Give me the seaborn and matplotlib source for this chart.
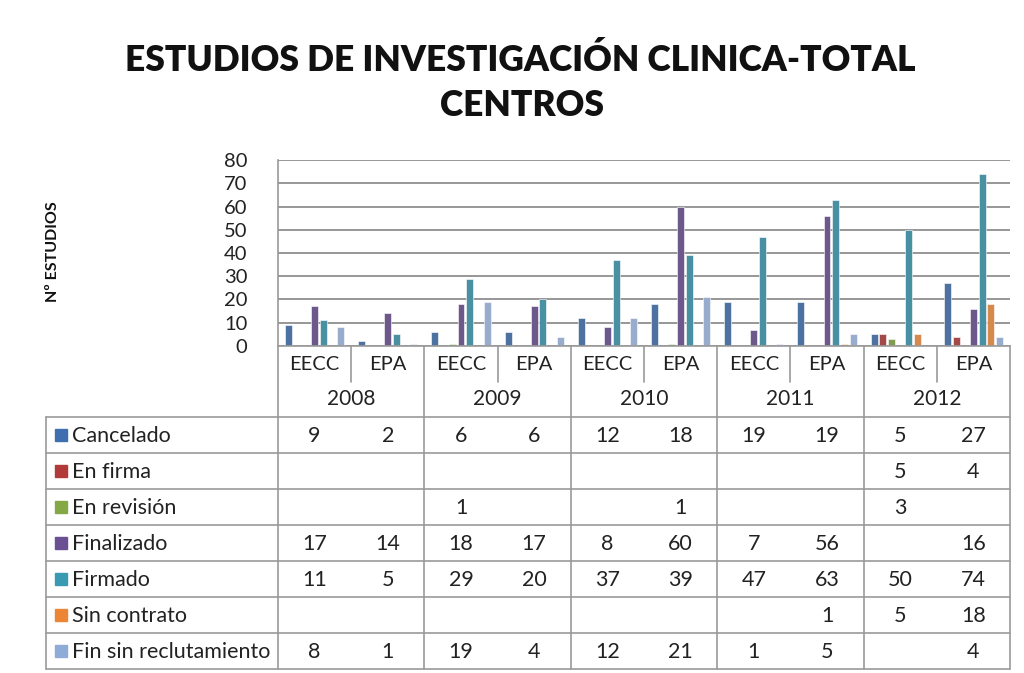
"""
Estudios de investigacion clinica - total centros.
Barras agrupadas por año / tipo (EECC, EPA) con tabla de datos debajo.
"""
import numpy as np
import pandas as pd
import matplotlib
matplotlib.use("Agg")
import matplotlib.pyplot as plt
import seaborn as sns

nan = np.nan
YEARS = ["2008", "2009", "2010", "2011", "2012"]
TIPOS = ["EECC", "EPA"]
ESTADOS = ["Cancelado", "En firma", "En revisión", "Finalizado", "Firmado",
           "Sin contrato", "Fin sin reclutamiento"]
COLORES = ["#3F6FAE", "#B23B3A", "#84A845", "#6A4F93", "#3A9AB1", "#EC8635", "#8FABD7"]

CANCELADO = [9, 2, 6, 6, 12, 18, 19, 19, 5, 27]
EN_FIRMA = [nan, nan, nan, nan, nan, nan, nan, nan, 5, 4]
EN_REVISION = [nan, nan, 1, nan, nan, 1, nan, nan, 3, nan]
FINALIZADO = [17, 14, 18, 17, 8, 60, 7, 56, nan, 16]
FIRMADO = [11, 5, 29, 20, 37, 39, 47, 63, 50, 74]
SIN_CONTRATO = [nan, nan, nan, nan, nan, nan, nan, 1, 5, 18]
FIN_SIN_RECL = [8, 1, 19, 4, 12, 21, 1, 5, nan, 4]
SERIES = [CANCELADO, EN_FIRMA, EN_REVISION, FINALIZADO, FIRMADO, SIN_CONTRATO, FIN_SIN_RECL]

W, H = 1024, 673
FONT = "Lato"
LINE = "#9a9a9a"
TXT = "#222222"


def main():
    sns.set_theme(style="white")
    plt.rcParams["font.family"] = [FONT, "DejaVu Sans"]

    cols = [f"{y} {t}" for y in YEARS for t in TIPOS]
    filas = []
    for est, vals in zip(ESTADOS, SERIES):
        for c, v in zip(cols, vals):
            if not np.isnan(v):
                filas.append({"col": c, "estado": est, "valor": v})
    df = pd.DataFrame(filas)

    fig = plt.figure(figsize=(W / 100, H / 100), dpi=100)
    x0, x1, ytop, ybot = 278, 1010, 160, 346
    ax = fig.add_axes([x0 / W, 1 - ybot / H, (x1 - x0) / W, (ybot - ytop) / H])
    sns.barplot(data=df, x="col", y="valor", hue="estado", order=cols,
                hue_order=ESTADOS, palette=COLORES, width=0.83, gap=0.2,
                dodge=True, legend=False, ax=ax, edgecolor="white", linewidth=0.4)
    ax.set_xlim(-0.5, len(cols) - 0.5)
    ax.set_ylim(0, 80)
    ax.set_yticks(range(0, 81, 10))
    ax.set_xticks([])
    ax.set_xlabel(""); ax.set_ylabel("")
    ax.grid(axis="y", color="#858585", lw=1.2)
    ax.set_axisbelow(True)
    for s in ["top", "right"]:
        ax.spines[s].set_visible(False)
    for s in ["left", "bottom"]:
        ax.spines[s].set_color(LINE); ax.spines[s].set_linewidth(1.2)
    ax.tick_params(axis="y", length=0, pad=22, labelsize=14.5, labelcolor=TXT)

    # tabla de datos
    t = fig.add_axes([0, 0, 1, 1], facecolor="none")
    t.set_xlim(0, W); t.set_ylim(H, 0); t.axis("off")
    cw = (x1 - x0) / len(cols)
    xs = [x0 + cw * i for i in range(len(cols) + 1)]
    ycat, ytab, rh = 382, 417, 36
    ybottom = ytab + rh * len(ESTADOS)
    for i, xv in enumerate(xs):
        if i % 2 == 1:
            t.plot([xv, xv], [ybot, ycat], color=LINE, lw=1.2)
        else:
            t.plot([xv, xv], [ybot, ybottom], color=LINE, lw=1.2)
    t.plot([46, 46], [ytab, ybottom], color=LINE, lw=1.2)
    for k in range(len(ESTADOS) + 1):
        yv = ytab + rh * k
        t.plot([46, x1], [yv, yv], color=LINE, lw=1.2)
    for i in range(len(cols)):
        t.text(x0 + cw * (i + 0.5), 364, TIPOS[i % 2], ha="center", va="center",
               fontsize=14.5, color=TXT)
    for j, y in enumerate(YEARS):
        t.text(x0 + cw * (2 * j + 1), 399, y, ha="center", va="center",
               fontsize=15, color=TXT)
    for k, (est, vals, col) in enumerate(zip(ESTADOS, SERIES, COLORES)):
        yc = ytab + rh * (k + 0.5)
        t.add_patch(plt.Rectangle((55, yc - 6), 12, 12, color=col))
        t.text(72, yc + 1, est, ha="left", va="center", fontsize=15.5, color=TXT)
        for i, v in enumerate(vals):
            if not np.isnan(v):
                t.text(x0 + cw * (i + 0.5), yc + 1, f"{int(v)}", ha="center",
                       va="center", fontsize=15.5, color=TXT)

    fig.text(520 / W, 1 - 60 / H, "ESTUDIOS DE INVESTIGACIÓN CLINICA-TOTAL",
             ha="center", va="center", fontsize=25.5, fontweight="heavy", color="#111111")
    fig.text(522 / W, 1 - 106 / H, "CENTROS", ha="center", va="center",
             fontsize=25.5, fontweight="heavy", color="#111111")
    fig.text(53 / W, 1 - 252 / H, "Nº ESTUDIOS", rotation=90, ha="center",
             va="center", fontsize=11.5, fontweight="bold", color="#111111")

    fig.savefig("out.png", dpi=100)
    plt.close(fig)


if __name__ == "__main__":
    main()
